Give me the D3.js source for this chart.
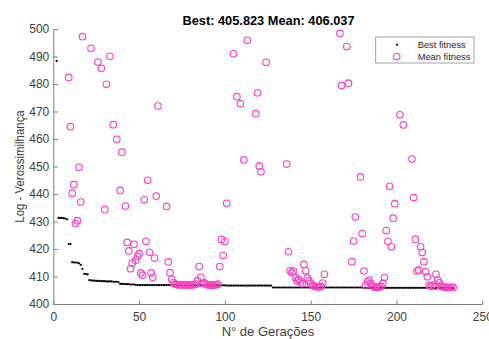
<!DOCTYPE html>
<html>
<head>
<meta charset="utf-8">
<script src="https://cdnjs.cloudflare.com/ajax/libs/d3/7.8.5/d3.min.js"></script>
<style>
  body { margin: 0; background: #fff; }
  svg { display: block; font-family: "Liberation Sans", Arial, sans-serif; }
  .axis path, .axis line { stroke: #7f7f7f; }
  .axis text { fill: #404040; font-size: 12px; }
</style>
</head>
<body>
<div id="chart"></div>
<script>
// Data
const titleText = "Best: 405.823 Mean: 406.037";
const xTicks = [0, 50, 100, 150, 200, 250];
const yTicks = [400, 410, 420, 430, 440, 450, 460, 470, 480, 490, 500];
const legendLabels = ["Best fitness", "Mean fitness"];

// best fitness, one value per generation starting at generation 2
const firstGeneration = 2;
const bestFitness = [
  488.4,
  431.3, 431.3, 431.3, 431.2, 431.1, 430.8,
  421.8, 421.8,
  415.2, 415.1, 415.1, 415.0, 414.8,
  414.2, 412.8,
  411.0, 410.9, 410.8,
  408.7, 408.6, 408.5, 408.5, 408.4, 408.4, 408.4, 408.3, 408.3, 408.3,
  408.2, 408.2, 408.2, 408.2, 408.1, 408.1, 408.1, 408.0,
  407.3, 407.3, 407.3, 407.2, 407.2, 407.2, 407.1, 407.1, 407.1, 407.0,
  406.9, 406.9, 406.9, 406.9, 406.9, 406.9, 406.9, 406.9, 406.9, 406.9,
  406.9, 406.9, 406.9, 406.9, 406.9, 406.9, 406.9, 406.9, 406.9, 406.9,
  406.9, 406.9,
  406.8, 406.8, 406.8, 406.8, 406.8, 406.8, 406.8, 406.8, 406.8, 406.8,
  406.8, 406.8, 406.8, 406.8, 406.8, 406.8, 406.8, 406.8, 406.8, 406.8,
  406.8, 406.8, 406.8, 406.8, 406.8, 406.8, 406.8, 406.8, 406.8, 406.8,
  406.7, 406.7, 406.7, 406.7, 406.7, 406.7, 406.7, 406.7, 406.7, 406.7,
  406.7, 406.7, 406.7, 406.7, 406.7, 406.7, 406.7, 406.7, 406.7, 406.7,
  406.7, 406.7, 406.7, 406.7, 406.7, 406.7, 406.7,
  406.0, 406.0, 406.0, 406.0, 406.0, 406.0, 406.0, 406.0, 406.0, 406.0,
  406.0, 406.0, 406.0, 406.0, 406.0, 406.0, 406.0, 406.0, 406.0, 406.0,
  406.0, 406.0, 406.0, 406.0, 406.0, 406.0, 406.0, 406.0, 406.0, 406.0,
  406.0, 406.0, 406.0, 406.0, 406.0, 406.0, 406.0, 406.0, 406.0, 406.0,
  406.0, 406.0, 406.0, 406.0, 406.0, 406.0, 406.0, 406.0, 406.0, 406.0,
  406.0, 406.0, 406.0,
  405.9, 405.9, 405.9, 405.9, 405.9, 405.9, 405.9, 405.9, 405.9, 405.9,
  405.9, 405.9, 405.9, 405.9, 405.9, 405.9, 405.9, 405.9, 405.9, 405.9,
  405.9, 405.9, 405.9, 405.9, 405.9, 405.9, 405.9, 405.9, 405.9, 405.9,
  405.9, 405.9, 405.9, 405.9, 405.9, 405.9, 405.9, 405.9, 405.9, 405.9,
  405.85, 405.85, 405.85, 405.85, 405.85, 405.85, 405.85, 405.85, 405.85, 405.85,
  405.85, 405.85,
  405.823
];

// mean fitness [generation, value], only the ones that fall inside the axes
const meanFitness = [
  [9, 482.4], [10, 464.5], [11, 440.3], [12, 443.4], [13, 429.2], [14, 430.3], [15, 449.7], [16, 437.1], [17, 497.2],
  [22, 493.0], [26, 488.0], [28, 485.7], [30, 434.3], [31, 479.9], [33, 490.1], [35, 465.2], [37, 459.9], [39, 441.3],
  [40, 455.2], [42, 435.6], [43, 422.4], [44, 419.3], [45, 412.8], [46, 414.9], [47, 421.7], [48, 415.9], [49, 417.3],
  [50, 418.3], [51, 411.3], [52, 410.5], [53, 437.9], [54, 422.8], [55, 445.0], [56, 418.8], [57, 411.3], [58, 409.7],
  [59, 416.7], [60, 439.2], [61, 472.0], [66, 435.5], [67, 415.3], [68, 411.4], [69, 409.0], [70, 407.7], [71, 407.2],
  [72, 407.1], [73, 406.9], [74, 407.0], [75, 406.9], [76, 406.9], [77, 407.0], [78, 406.9], [79, 406.9], [80, 406.9],
  [81, 407.0], [82, 406.9], [83, 407.2], [84, 408.5], [85, 413.6], [86, 409.7], [87, 407.5], [88, 407.7], [89, 407.2],
  [90, 406.9], [91, 406.9], [92, 406.9], [93, 406.8], [94, 406.9], [95, 407.0], [96, 407.2], [97, 413.6], [98, 423.5],
  [99, 417.6], [100, 422.7], [101, 436.6], [105, 491.0], [107, 475.4], [109, 472.8], [111, 452.4], [113, 495.9],
  [118, 469.2], [119, 476.8], [120, 450.2], [121, 448.1], [124, 487.9], [136, 450.9], [137, 419.0], [138, 412.1],
  [139, 411.5], [140, 412.0], [141, 409.6], [142, 408.4], [143, 409.0], [144, 408.1], [145, 407.4], [146, 414.4],
  [147, 412.1], [148, 409.5], [149, 408.4], [150, 407.5], [151, 406.9], [152, 406.5], [153, 406.3], [154, 406.3],
  [155, 406.2], [156, 406.4], [157, 407.6], [158, 410.8], [167, 498.4], [168, 479.5], [171, 493.6], [172, 480.3],
  [174, 415.4], [175, 422.9], [176, 431.6], [179, 446.2], [180, 425.6], [181, 412.0], [182, 406.9], [183, 408.1],
  [184, 408.7], [185, 407.5], [186, 406.5], [187, 406.2], [188, 406.1], [189, 406.1], [190, 406.2], [191, 406.4],
  [192, 407.5], [193, 409.7], [194, 426.7], [195, 422.7], [196, 442.8], [197, 420.8], [198, 431.2], [199, 436.5],
  [202, 468.8], [204, 465.1], [209, 452.7], [210, 438.7], [211, 423.5], [212, 412.0], [213, 412.4], [214, 420.8],
  [215, 418.7], [216, 415.4], [217, 411.7], [218, 409.9], [219, 406.8], [220, 406.5], [221, 406.9], [222, 406.4],
  [223, 410.8], [224, 408.7], [225, 407.7], [226, 406.5], [227, 406.2], [228, 406.1], [229, 406.1], [230, 406.0],
  [231, 406.1], [232, 406.0], [233, 406.037]
];

// Dimensions
const W = 489, H = 339;
const margin = {left: 53.3, right: 6.7, top: 29, bottom: 35};
const width = W - margin.left - margin.right;
const height = H - margin.top - margin.bottom;
const magenta = "#ff3fc4";

// Scales
const xScale = d3.scaleLinear().domain([0, 250]).range([0, width]);
const yScale = d3.scaleLinear().domain([400, 500]).range([height, 0]);

// Elements
const svg = d3.select("#chart").append("svg")
  .attr("width", W)
  .attr("height", H);

const g = svg.append("g")
  .attr("transform", `translate(${margin.left},${margin.top})`);

g.append("g")
  .attr("class", "axis")
  .attr("transform", `translate(0,${height})`)
  .call(d3.axisBottom(xScale).tickValues(xTicks).tickSizeInner(-3.5).tickSizeOuter(0).tickPadding(8))
  .call(a => a.selectAll("text").attr("font-family", null).attr("font-size", null));

g.append("g")
  .attr("class", "axis")
  .call(d3.axisLeft(yScale).tickValues(yTicks).tickSizeInner(-4.5).tickSizeOuter(0).tickPadding(4))
  .call(a => a.selectAll("text").attr("font-family", null).attr("font-size", null));

// best fitness dots
g.append("g").selectAll("circle")
  .data(bestFitness)
  .enter().append("circle")
    .attr("cx", (d, i) => xScale(firstGeneration + i))
    .attr("cy", d => yScale(d))
    .attr("r", 1.1)
    .attr("fill", "#000");

// mean fitness circles
g.append("g").selectAll("circle")
  .data(meanFitness)
  .enter().append("circle")
    .attr("cx", d => xScale(d[0]))
    .attr("cy", d => yScale(d[1]))
    .attr("r", 3.3)
    .attr("fill", "none")
    .attr("stroke", magenta)
    .attr("stroke-width", 1.1);

// title and labels
svg.append("text")
  .attr("x", 268.5)
  .attr("y", 24.5)
  .attr("text-anchor", "middle")
  .attr("font-size", "12.8px")
  .attr("font-weight", "bold")
  .attr("fill", "#000")
  .text(titleText);

svg.append("text")
  .attr("x", 268)
  .attr("y", 335.5)
  .attr("text-anchor", "middle")
  .attr("font-size", "13px")
  .attr("fill", "#404040")
  .text("N° de Gerações");

svg.append("text")
  .attr("transform", "translate(23.5,166.5) rotate(-90) scale(0.88,1)")
  .attr("text-anchor", "middle")
  .attr("font-size", "13px")
  .attr("fill", "#404040")
  .text("Log - Verossimilhança");

// Legend
const legend = svg.append("g").attr("transform", "translate(375.7,37)");

legend.append("rect")
  .attr("width", 98.3)
  .attr("height", 26)
  .attr("fill", "#fff")
  .attr("stroke", "#8c8c8c")
  .attr("stroke-width", 0.8);

legend.append("circle")
  .attr("cx", 21.3).attr("cy", 7.8).attr("r", 1.1).attr("fill", "#000");

legend.append("circle")
  .attr("cx", 21).attr("cy", 19.6).attr("r", 3.3)
  .attr("fill", "none").attr("stroke", magenta).attr("stroke-width", 1.1);

legend.selectAll(".lbl")
  .data(legendLabels)
  .enter().append("text")
    .attr("class", "lbl")
    .attr("x", 42)
    .attr("y", (d, i) => 11.3 + i * 11.8)
    .attr("font-size", "9.3px")
    .attr("fill", "#262626")
    .text(d => d);
</script>
</body>
</html>
